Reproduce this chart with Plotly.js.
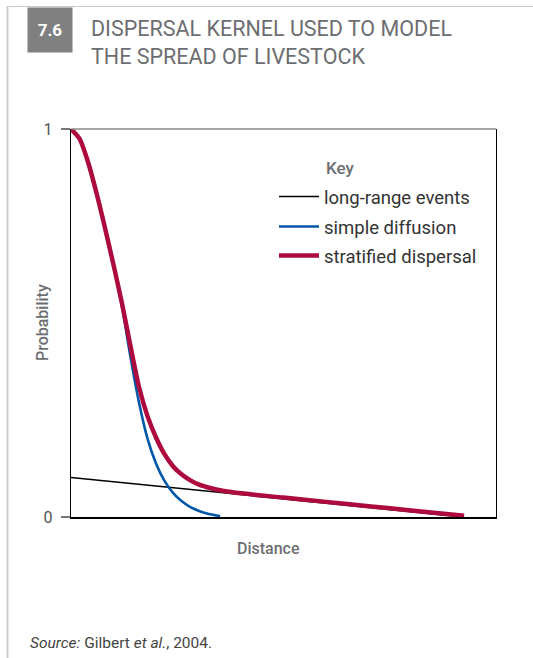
<!DOCTYPE html>
<html>
<head>
<meta charset="utf-8">
<script src="https://cdn.plot.ly/plotly-3.0.1.min.js"></script>
<style>
html,body{margin:0;padding:0;background:#fff;}
#chart{width:533px;height:658px;}
</style>
</head>
<body>
<div id="chart"></div>
<script>
// ---- data ----
const seriesNames = ["long-range events", "simple diffusion", "stratified dispersal"];

const distLong = [0, 92.2];
const probLong = [0.102, 0.0];

const distDiff = [0, 2, 4, 6, 8, 10, 12, 14, 16, 18, 20, 22, 24, 26, 28, 30, 32, 35.1];
const probDiff = [1, 0.975, 0.915, 0.835, 0.745, 0.650, 0.543, 0.412, 0.295, 0.202, 0.138, 0.093, 0.062, 0.041, 0.026, 0.016, 0.009, 0.002];

const distStrat = [0, 2, 4, 6, 8, 10, 12, 14, 16, 18, 20, 22, 24, 26, 28, 30, 33, 36, 40, 50, 60, 70, 80, 92.5];
const probStrat = [1, 0.975, 0.915, 0.835, 0.745, 0.650, 0.550, 0.440, 0.335, 0.260, 0.205, 0.162, 0.131, 0.110, 0.095, 0.084, 0.074, 0.067, 0.061, 0.050, 0.039, 0.028, 0.017, 0.003];

const yTickVals = [0, 1];
const yTickText = ["0", "1"];

// ---- layout helpers ----
const L = 71, R = 496, T = 129, B = 517, W = 533, H = 658;
const px = v => (v - L) / (R - L);
const py = v => (B - v) / (B - T);

const FONT = "Roboto, 'DejaVu Sans', sans-serif";
const GREY = "#6d6e71";

const traces = [
  {x: distLong, y: probLong, name: seriesNames[0], mode: "lines",
   line: {color: "#000000", width: 1.5}, legend: "legend", hoverinfo: "skip"},
  {x: distDiff, y: probDiff, name: seriesNames[1], mode: "lines",
   line: {color: "#0057a8", width: 2.6, shape: "spline", smoothing: 0.7}, legend: "legend2", hoverinfo: "skip"},
  {x: distStrat, y: probStrat, name: seriesNames[2], mode: "lines",
   line: {color: "#ad0a3d", width: 4.5, shape: "spline", smoothing: 0.7}, legend: "legend3", hoverinfo: "skip"}
];

function leg(yc) {
  return {x: px(274), y: py(yc), xanchor: "left", yanchor: "middle",
    bgcolor: "rgba(0,0,0,0)", borderwidth: 0, itemwidth: 40,
    font: {family: FONT, size: 18.5, color: "#333333"}};
}

const layout = {
  width: W, height: H,
  margin: {l: L, r: W - R, t: T, b: H - B, pad: 0},
  paper_bgcolor: "#ffffff", plot_bgcolor: "#ffffff",
  font: {family: FONT, color: GREY},
  showlegend: true,
  legend: leg(197),
  legend2: leg(227),
  legend3: leg(256),
  xaxis: {range: [0, 100], showgrid: false, zeroline: false, showticklabels: false,
          ticks: "", showline: true, linecolor: "#000000", linewidth: 1.5, fixedrange: true},
  yaxis: {range: [0, 1], showgrid: false, zeroline: false, tickvals: yTickVals, ticktext: yTickText,
          ticks: "outside", ticklen: 9, tickwidth: 1.5, tickcolor: "#777777", ticklabelstandoff: 5,
          tickfont: {family: FONT, size: 16, color: "#555555"},
          showline: true, linecolor: "#000000", linewidth: 1.3, mirror: true, fixedrange: true},
  shapes: [
    {type: "line", xref: "paper", yref: "paper", x0: 0, x1: 1, y0: 1, y1: 1,
     line: {color: "#8a8a8a", width: 1.6}},
    {type: "line", xref: "paper", yref: "paper", x0: px(7.5), x1: px(7.5), y0: py(6), y1: py(H + 2),
     line: {color: "#c8c8c8", width: 1.8}},
    {type: "line", xref: "paper", yref: "paper", x0: px(7.5), x1: px(W + 2), y0: py(6.5), y1: py(6.5),
     line: {color: "#c8c8c8", width: 1.2}}
  ],
  annotations: [
    {text: "<b>7.6</b>", xref: "paper", yref: "paper", x: px(27), y: py(7), xanchor: "left", yanchor: "top",
     showarrow: false, bgcolor: "#808080", width: 44, height: 44, borderpad: 0, align: "center", valign: "middle",
     font: {family: FONT, size: 17, color: "#ffffff"}},
    {text: "DISPERSAL KERNEL USED TO MODEL<br>THE SPREAD OF LIVESTOCK", xref: "paper", yref: "paper",
     x: px(89), y: py(14), xanchor: "left", yanchor: "top", align: "left", showarrow: false,
     font: {family: FONT, size: 21.5, color: GREY}},
    {text: "Key", xref: "paper", yref: "paper", x: px(324), y: py(168), xanchor: "left", yanchor: "middle",
     showarrow: false, font: {family: FONT, size: 17, color: GREY, weight: 500}},
    {text: "Probability", xref: "paper", yref: "paper", x: px(42), y: py(323), xanchor: "center", yanchor: "middle",
     textangle: -90, showarrow: false, font: {family: FONT, size: 16, color: GREY, weight: 500}},
    {text: "Distance", xref: "paper", yref: "paper", x: px(268), y: py(548), xanchor: "center", yanchor: "middle",
     showarrow: false, font: {family: FONT, size: 16, color: GREY, weight: 500}},
    {text: "<i>Source:</i> Gilbert <i>et al.</i>, 2004.", xref: "paper", yref: "paper", x: px(28), y: py(643),
     xanchor: "left", yanchor: "middle", showarrow: false, font: {family: FONT, size: 15.5, color: "#444444"}}
  ]
};

Plotly.newPlot("chart", traces, layout, {displayModeBar: false, staticPlot: true});
</script>
</body>
</html>
